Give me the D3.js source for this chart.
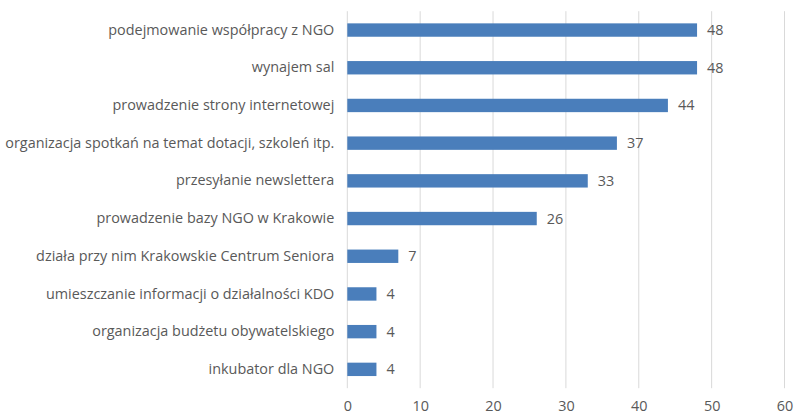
<!DOCTYPE html>
<html><head><meta charset="utf-8">
<script src="https://cdn.jsdelivr.net/npm/d3@7"></script>
<style>
body{margin:0;background:#fff;}
svg{display:block;font-family:"Open Sans",sans-serif;}
</style></head>
<body><svg id="c" width="795" height="414"></svg>
<script>
const categories = [
  "podejmowanie współpracy z NGO",
  "wynajem sal",
  "prowadzenie strony internetowej",
  "organizacja spotkań na temat dotacji, szkoleń itp.",
  "przesyłanie newslettera",
  "prowadzenie bazy NGO w Krakowie",
  "działa przy nim Krakowskie Centrum Seniora",
  "umieszczanie informacji o działalności KDO",
  "organizacja budżetu obywatelskiego",
  "inkubator dla NGO"
];
const values = [48, 48, 44, 37, 33, 26, 7, 4, 4, 4];
const xTicks = [0, 10, 20, 30, 40, 50, 60];

const svg = d3.select("#c");
const mLeft = 347.3, mRight = 784.5, mTop = 11.2, mBottom = 388.2;
const x = d3.scaleLinear().domain([0, 60]).range([mLeft, mRight]);
const y = d3.scaleBand().domain(categories).range([mTop, mBottom]).paddingInner(0.645).paddingOuter(0.3225);

// gridlines
svg.append("g").selectAll("line").data(xTicks).join("line")
  .attr("x1", d => x(d)).attr("x2", d => x(d))
  .attr("y1", mTop).attr("y2", mBottom)
  .attr("stroke", "#d9d9d9").attr("stroke-width", 1);

// x axis labels
const ax = svg.append("g").attr("transform", `translate(0,${mBottom})`)
  .call(d3.axisBottom(x).tickValues(xTicks).tickSize(0).tickPadding(13));
ax.select(".domain").remove();
ax.selectAll("text").attr("fill", "#595959").style("font-size", "14.4px").style("font-family", "'Open Sans',sans-serif");

// y labels
const ay = svg.append("g").attr("transform", `translate(${mLeft},0)`)
  .call(d3.axisLeft(y).tickSize(0).tickPadding(13));
ay.select(".domain").remove();
ay.selectAll("text").attr("fill", "#595959").style("font-size", "14.4px").style("font-family", "'Open Sans',sans-serif");

// bars
svg.append("g").selectAll("rect").data(values).join("rect")
  .attr("x", x(0)).attr("y", (d, i) => y(categories[i]))
  .attr("width", d => x(d) - x(0)).attr("height", y.bandwidth())
  .attr("fill", "#4a7ebb");

// value labels
svg.append("g").selectAll("text").data(values).join("text")
  .attr("x", d => x(d) + 10).attr("y", (d, i) => y(categories[i]) + y.bandwidth() / 2)
  .attr("dy", "0.35em").attr("fill", "#595959").style("font-size", "14.4px")
  .text(d => d);
</script></body></html>
